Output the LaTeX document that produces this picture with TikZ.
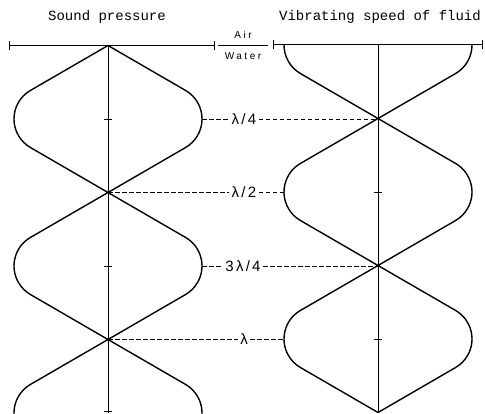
\documentclass[tikz,border=0pt]{standalone}
\usepackage{fontspec}
\setmainfont{Liberation Serif}
\newfontfamily\titlefont{Liberation Mono}
\newfontfamily\lblfont[LetterSpace=15]{Liberation Sans}
\newfontfamily\smallfont[LetterSpace=25]{Liberation Sans}
\begin{document}
\begin{tikzpicture}[x=1pt,y=1pt,
  wave/.style={line width=1.4pt, line join=round},
  axis/.style={line width=1pt},
  guide/.style={dash pattern=on 4.5pt off 2.5pt, line width=1.2pt},
  lbl/.style={font=\lblfont\fontsize{15}{15}\selectfont, inner sep=2.5pt},
  ttl/.style={font=\titlefont\fontsize{14}{14}\selectfont, inner sep=0pt},
  sml/.style={font=\smallfont\fontsize{10}{10}\selectfont, inner sep=0pt}]
\useasboundingbox (0,0) rectangle (485,-413);
% key points
\coordinate (L0) at (108,-45.5);
\coordinate (L1) at (108,-192.5);
\coordinate (L2) at (108,-339.5);
\coordinate (LA1) at (202,-119.5);
\coordinate (LA2) at (202,-266.5);
\coordinate (R1) at (378,-118.5);
\coordinate (R2) at (378,-265.5);
\coordinate (R3) at (378,-412.5);
\coordinate (RA1) at (284,-192.5);
\coordinate (RA2) at (284,-339.5);
\begin{scope}
\clip (0,0) rectangle (485,-413);
% left diagram waves
\draw[wave] (L0) -- ++(-77.5,-44.9) arc[start angle=120,end angle=240,radius=33] -- (L1)
  -- ++(-77.5,-44.9) arc[start angle=120,end angle=240,radius=33] -- (L2)
  -- ++(-77.5,-44.9) arc[start angle=120,end angle=240,radius=33];
\draw[wave] (L0) -- ++(77.5,-44.9) arc[start angle=60,end angle=-60,radius=33] -- (L1)
  -- ++(77.5,-44.9) arc[start angle=60,end angle=-60,radius=33] -- (L2)
  -- ++(77.5,-44.9) arc[start angle=60,end angle=-60,radius=33];
% left axis
\draw[axis] (L0) -- (108,-413);
\foreach \y in {-119.5,-266.5,-411.5} \draw[axis] (104,\y) -- (112,\y);
\end{scope}
% right diagram waves
\draw[wave] (284,-45) arc[start angle=180,end angle=240,radius=33] -- (R1)
  -- ++(-77.5,-44.9) arc[start angle=120,end angle=240,radius=33] -- (R2)
  -- ++(-77.5,-44.9) arc[start angle=120,end angle=240,radius=33] -- (R3);
\draw[wave] (472,-45) arc[start angle=0,end angle=-60,radius=33] -- (R1)
  -- ++(77.5,-44.9) arc[start angle=60,end angle=-60,radius=33] -- (R2)
  -- ++(77.5,-44.9) arc[start angle=60,end angle=-60,radius=33] -- (R3);
\draw[axis] (378,-45) -- (R3);
\foreach \y in {-192.5,-339.5} \draw[axis] (374,\y) -- (382,\y);
% top bars
\draw[axis] (9,-45.5) -- (214,-45.5);
\draw[axis] (9,-41) -- (9,-50);
\draw[axis] (214,-41) -- (214,-50);
\draw[axis] (273,-44.5) -- (482,-44.5);
\draw[axis] (273,-40) -- (273,-49);
\draw[axis] (482,-40) -- (482,-49);
\draw[line width=0.9pt] (218,-45.5) -- (268,-45.5);
\node[sml] (air) at (243,-35) {Air};
\node[sml] (water) at (243,-56) {Water};
% titles
\node[ttl] (t1) at (107,-17) {Sound pressure};
\node[ttl] (t2) at (380,-17) {Vibrating speed of fluid};
% labels and guides
\node[lbl] (q1) at (244,-119.5) {λ/4};
\node[lbl] (q2) at (244,-192.5) {λ/2};
\node[lbl] (q3) at (243,-266.5) {3λ/4};
\node[lbl] (q4) at (244,-339.5) {λ};
\draw[guide] (LA1) -- (q1.west);
\draw[guide] (q1.east) -- (R1 |- q1.east);
\draw[guide] (L1) -- (q2.west);
\draw[guide] (q2.east) -- (RA1);
\draw[guide] (LA2) -- (q3.west);
\draw[guide] (q3.east) -- (R2 |- q3.east);
\draw[guide] (L2) -- (q4.west);
\draw[guide] (q4.east) -- (RA2);
\end{tikzpicture}
\end{document}
